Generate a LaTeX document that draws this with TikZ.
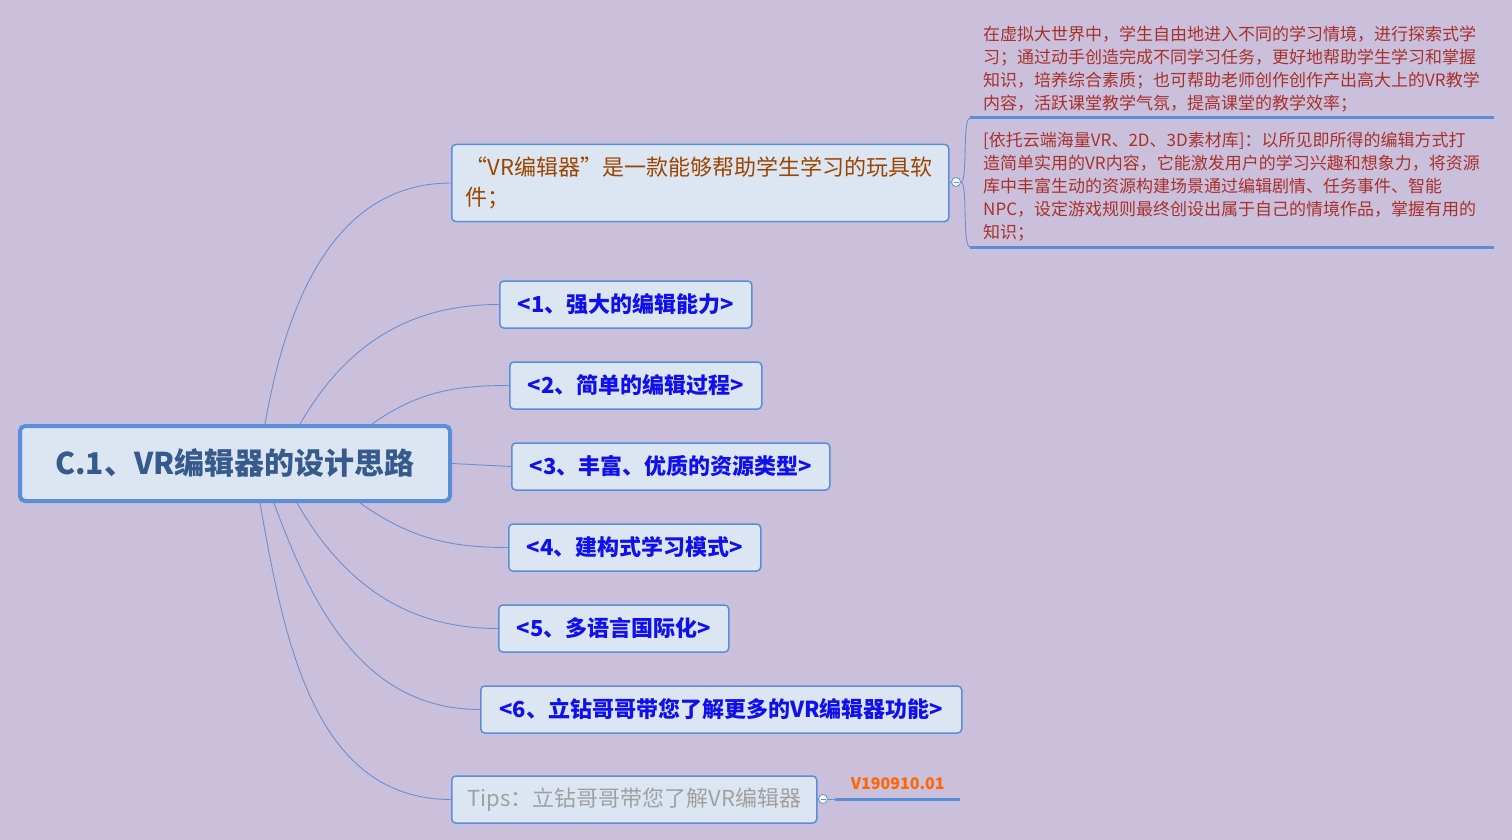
\documentclass[tikz,border=0pt]{standalone}
\usepackage{fontspec}
\setmainfont{Noto Sans CJK SC}
\usetikzlibrary{positioning}
\definecolor{bgpurple}{RGB}{203,192,219}
\definecolor{boxfill}{RGB}{220,230,242}
\definecolor{boxline}{RGB}{90,142,214}
\definecolor{linkblue}{RGB}{106,143,208}
\definecolor{roottext}{RGB}{55,90,140}
\definecolor{toptext}{RGB}{156,69,0}
\definecolor{itemtext}{RGB}{16,16,236}
\definecolor{notetext}{RGB}{168,48,44}
\definecolor{tiptext}{RGB}{160,160,160}
\definecolor{vertext}{RGB}{255,102,0}

\begin{document}
\begin{tikzpicture}[
    x=1pt, y=-1pt,
    rootbox/.style={rectangle, rounded corners=5pt, draw=boxline, line width=4pt, fill=boxfill, minimum width=430, minimum height=75, font=\fontsize{30}{36}\selectfont\bfseries, text=roottext, anchor=west},
    topic/.style={rectangle, rounded corners=4pt, draw=boxline, line width=1.5pt, fill=boxfill, minimum height=47, font=\fontsize{22}{28}\selectfont\bfseries, text=itemtext, anchor=west},
    note/.style={anchor=south west, text width=498, inner xsep=13, inner ysep=6, align=left, font=\fontsize{17}{23}\selectfont, text=notetext},
    fold/.style={circle, draw=boxline, fill=white, line width=0.8pt, minimum size=9, inner sep=0pt},
    link/.style={draw=linkblue, line width=0.9pt},
    uline/.style={draw=boxline, line width=3pt}
]
    \useasboundingbox [fill=bgpurple] (0,0) rectangle (1512,840);

    % central topic
    \node [rootbox] (root) at (18,463.5) {C.1、VR编辑器的设计思路};

    % branches
    \node [topic, minimum width=497, minimum height=77, text width=469, align=left, inner xsep=14, font=\fontsize{22}{30}\selectfont, text=toptext] (intro) at (451,183) {“VR编辑器”是一款能够帮助学生学习的玩具软\\件；};
    \node [topic, minimum width=252] (power) at (499,304.5) {<1、强大的编辑能力>};
    \node [topic, minimum width=252] (easy) at (509,385.5) {<2、简单的编辑过程>};
    \node [topic, minimum width=318] (res) at (511,466.5) {<3、丰富、优质的资源类型>};
    \node [topic, minimum width=252] (mode) at (508,547.5) {<4、建构式学习模式>};
    \node [topic, minimum width=230] (lang) at (498,628.5) {<5、多语言国际化>};
    \node [topic, minimum width=481] (more) at (480,709.5) {<6、立钻哥哥带您了解更多的VR编辑器功能>};
    \node [topic, minimum width=365, font=\fontsize{22}{28}\selectfont, text=tiptext] (tips) at (451,799.5) {Tips：立钻哥哥带您了解VR编辑器};

    % notes of the first branch
    \node [fold] (fold1) at (956,182) {};
    \node [note] (note1) at (970,118) {在虚拟大世界中，学生自由地进入不同的学习情境，进行探索式学\\习；通过动手创造完成不同学习任务，更好地帮助学生学习和掌握\\知识，培养综合素质；也可帮助老师创作创作产出高大上的VR教学\\内容，活跃课堂教学气氛，提高课堂的教学效率；};
    \node [note] (note2) at (970,247) {[依托云端海量VR、2D、3D素材库]：以所见即所得的编辑方式打\\造简单实用的VR内容，它能激发用户的学习兴趣和想象力，将资源\\库中丰富生动的资源构建场景通过编辑剧情、任务事件、智能\\NPC，设定游戏规则最终创设出属于自己的情境作品，掌握有用的\\知识；};

    % version label of the tips
    \node [fold] (fold2) at (823,799) {};
    \node [anchor=south west, minimum width=125, inner ysep=9, font=\fontsize{16}{20}\selectfont\bfseries, text=vertext] (ver) at (835,799) {V190910.01};

    % connectors
    \draw [link] ([xshift=30]root.north) to[out=80, in=180] (intro.west);
    \draw [link] ([xshift=65]root.north) to[out=60, in=180] (power.west);
    \draw [link] ([xshift=137]root.north) to[out=35, in=180] (easy.west);
    \draw [link] (root.east) -- (res.west);
    \draw [link] ([xshift=125]root.south) to[out=-35, in=180] (mode.west);
    \draw [link] ([xshift=62]root.south) to[out=-60, in=180] (lang.west);
    \draw [link] ([xshift=39]root.south) to[out=-70, in=180] (more.west);
    \draw [link] ([xshift=25]root.south) to[out=-80, in=180] (tips.west);

    \draw [link] (intro.east) -- (fold1);
    \draw [link] (fold1.east) .. controls (968,182) and (962,118) .. (note1.south west);
    \draw [link] (fold1.east) .. controls (968,182) and (962,247) .. (note2.south west);
    \draw [uline] (note1.south west) -- (note1.south east);
    \draw [uline] (note2.south west) -- (note2.south east);

    \draw [link] (tips.east) -- (fold2);
    \draw [link] (fold2.east) -- (ver.south west);
    \draw [uline] (ver.south west) -- (ver.south east);

    % minus signs of the fold markers
    \draw [boxline, line width=0.8pt] ([xshift=-2.5]fold1.center) -- ([xshift=2.5]fold1.center);
    \draw [boxline, line width=0.8pt] ([xshift=-2.5]fold2.center) -- ([xshift=2.5]fold2.center);
\end{tikzpicture}
\end{document}
